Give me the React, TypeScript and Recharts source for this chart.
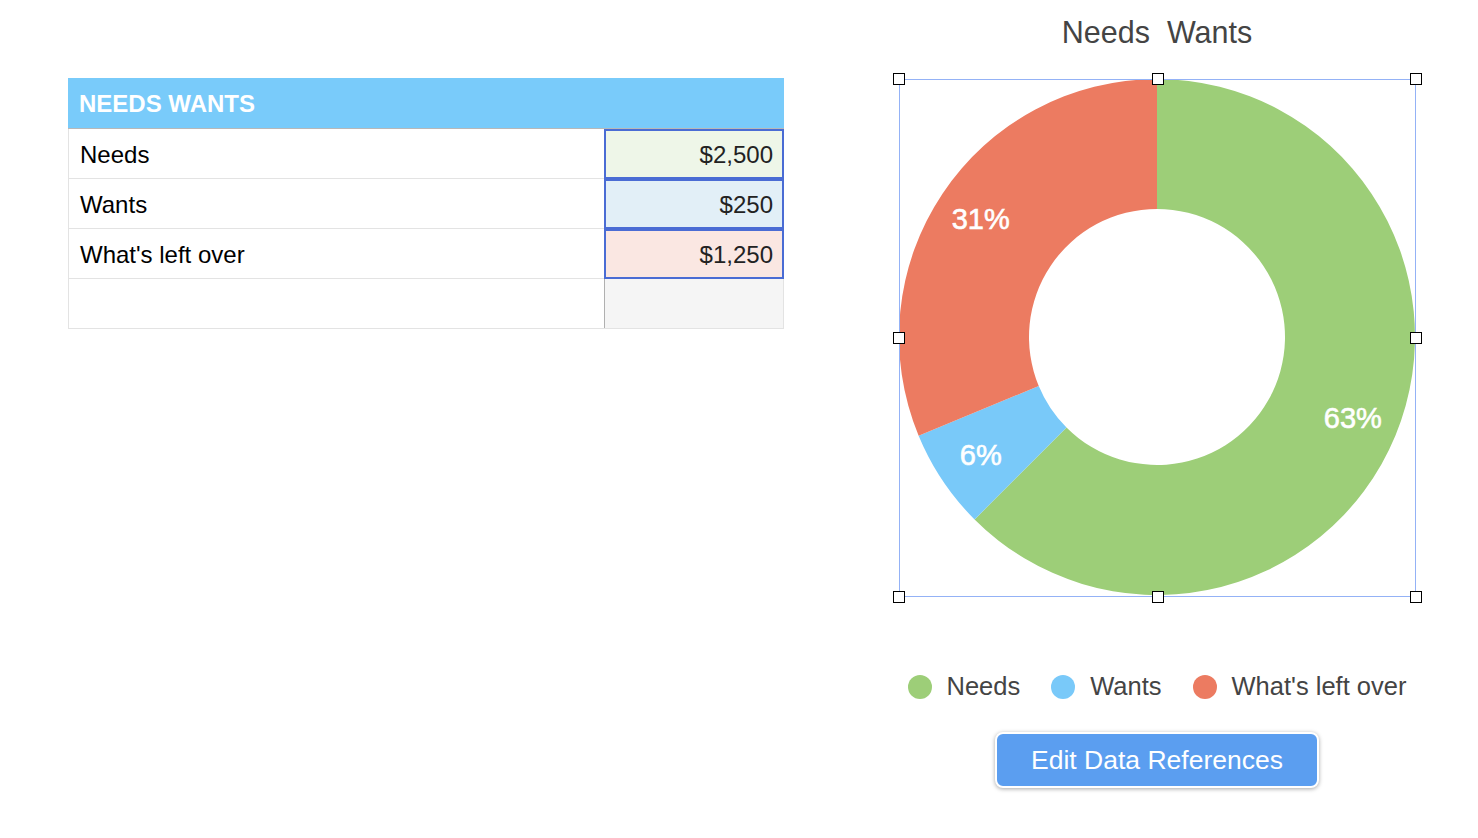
import { PieChart, Pie, Cell, Legend } from 'recharts'

// valores da tabela
const categories = ['Needs', 'Wants', "What's left over"]
const amounts = [2500, 250, 1250]
const amountLabels = ['$2,500', '$250', '$1,250']
const sliceColors = ['#9dce78', '#79c9f9', '#ec7b61']
const cellTints = ['#eef6e8', '#e2eff7', '#fae7e2']

const chartTitle = 'Needs  Wants'
const tableTitle = 'NEEDS WANTS'

const pieData = categories.map((name, i) => ({ name, value: amounts[i] }))

const FONT = '"Liberation Sans", Arial, sans-serif'
const RAD = Math.PI / 180

function renderLabel(props: any) {
  const { cx, cy, midAngle, percent } = props
  const r = 212
  const x = cx + r * Math.cos(-midAngle * RAD)
  const y = cy + r * Math.sin(-midAngle * RAD)
  return (
    <text
      x={x}
      y={y}
      fill="#fff"
      stroke="#fff"
      strokeWidth={0.6}
      fontSize={29}
      fontFamily={FONT}
      textAnchor="middle"
      dominantBaseline="central"
    >
      {`${Math.round(percent * 100)}%`}
    </text>
  )
}

function LegendContent() {
  return (
    <div style={{ display: 'flex', justifyContent: 'center', alignItems: 'center', fontFamily: FONT, fontSize: 25.5, color: '#444' }}>
      {categories.map((name, i) => (
        <div key={name} style={{ display: 'flex', alignItems: 'center', marginRight: i < categories.length - 1 ? 31 : 0 }}>
          <span style={{ width: 24, height: 24, borderRadius: 12, background: sliceColors[i], marginRight: 15, display: 'inline-block' }} />
          <span>{name}</span>
        </div>
      ))}
    </div>
  )
}

function Handle({ x, y }: { x: number; y: number }) {
  return (
    <div
      style={{
        position: 'absolute',
        left: x - 6,
        top: y - 6,
        width: 10,
        height: 10,
        background: '#fff',
        border: '1px solid #000',
      }}
    />
  )
}

function DataTable() {
  const rowH = 50
  return (
    <div style={{ position: 'absolute', left: 68, top: 78, width: 716, fontFamily: FONT }}>
      <div
        style={{
          height: 51,
          background: '#79cbfa',
          borderBottom: '1px solid #b8b8b8',
          color: '#fff',
          fontWeight: 'bold',
          fontSize: 24,
          lineHeight: '52px',
          paddingLeft: 11,
          boxSizing: 'border-box',
        }}
      >
        {tableTitle}
      </div>
      {[...categories, ''].map((name, i) => (
        <div key={i} style={{ display: 'flex', height: rowH, borderBottom: '1px solid #e3e3e3', borderLeft: '1px solid #e3e3e3', boxSizing: 'border-box' }}>
          <div style={{ flex: 1, fontSize: 24, color: '#000', lineHeight: `${rowH + 2}px`, paddingLeft: 11 }}>{name}</div>
          <div
            style={{
              width: 180,
              boxSizing: 'border-box',
              background: i < 3 ? cellTints[i] : '#f5f5f5',
              border: i < 3 ? '2px solid #4a6cd4' : 'none',
              borderLeft: i < 3 ? '2px solid #4a6cd4' : '1px solid #b0b0b0',
              borderRight: i < 3 ? '2px solid #4a6cd4' : '1px solid #e3e3e3',
              marginBottom: i < 3 ? -1 : 0,
              textAlign: 'right',
              paddingRight: 9,
              fontSize: 24,
              color: '#222',
              lineHeight: `${rowH - 2}px`,
            }}
          >
            {i < 3 ? amountLabels[i] : ''}
          </div>
        </div>
      ))}
    </div>
  )
}

export default function App() {
  const left = 899
  const top = 79
  const right = 1416
  const bottom = 597
  const midX = (left + right) / 2
  const midY = (top + bottom) / 2
  return (
    <div style={{ position: 'absolute', left: 0, top: 0, width: 1478, height: 838, background: '#fff', overflow: 'hidden', fontFamily: FONT }}>
      <DataTable />

      <div style={{ position: 'absolute', left: 877, top: 15, width: 560, textAlign: 'center', fontSize: 30.5, color: '#444', whiteSpace: 'pre' }}>
        {chartTitle}
      </div>

      <div style={{ position: 'absolute', left: 877, top: 0 }}>
        <PieChart width={560} height={710} margin={{ top: 0, right: 0, bottom: 0, left: 0 }}>
          <Pie
            data={pieData}
            dataKey="value"
            nameKey="name"
            cx={280}
            cy={337}
            innerRadius={128}
            outerRadius={258}
            startAngle={90}
            endAngle={-270}
            stroke="none"
            labelLine={false}
            label={renderLabel}
            isAnimationActive={false}
          >
            {pieData.map((entry, i) => (
              <Cell key={entry.name} fill={sliceColors[i]} />
            ))}
          </Pie>
          <Legend
            verticalAlign="bottom"
            wrapperStyle={{ top: 672, bottom: 'auto', left: 0, width: 560 }}
            content={() => <LegendContent />}
          />
        </PieChart>
      </div>

      {/* moldura de seleção */}
      <div
        style={{
          position: 'absolute',
          left,
          top,
          width: right - left,
          height: bottom - top,
          border: '1.5px solid #94b2f6',
          boxSizing: 'border-box',
        }}
      />
      {[
        [left, top], [midX, top], [right, top],
        [left, midY], [right, midY],
        [left, bottom], [midX, bottom], [right, bottom],
      ].map(([x, y], i) => (
        <Handle key={i} x={x} y={y} />
      ))}

      <div
        style={{
          position: 'absolute',
          left: 995,
          top: 732,
          width: 324,
          height: 56,
          boxSizing: 'border-box',
          background: '#5b9ef0',
          border: '2px solid #fff',
          borderRadius: 8,
          boxShadow: '0 1px 4px rgba(0,0,0,0.35)',
          color: '#fff',
          fontSize: 26.5,
          textAlign: 'center',
          lineHeight: '52px',
        }}
      >
        Edit Data References
      </div>
    </div>
  )
}
